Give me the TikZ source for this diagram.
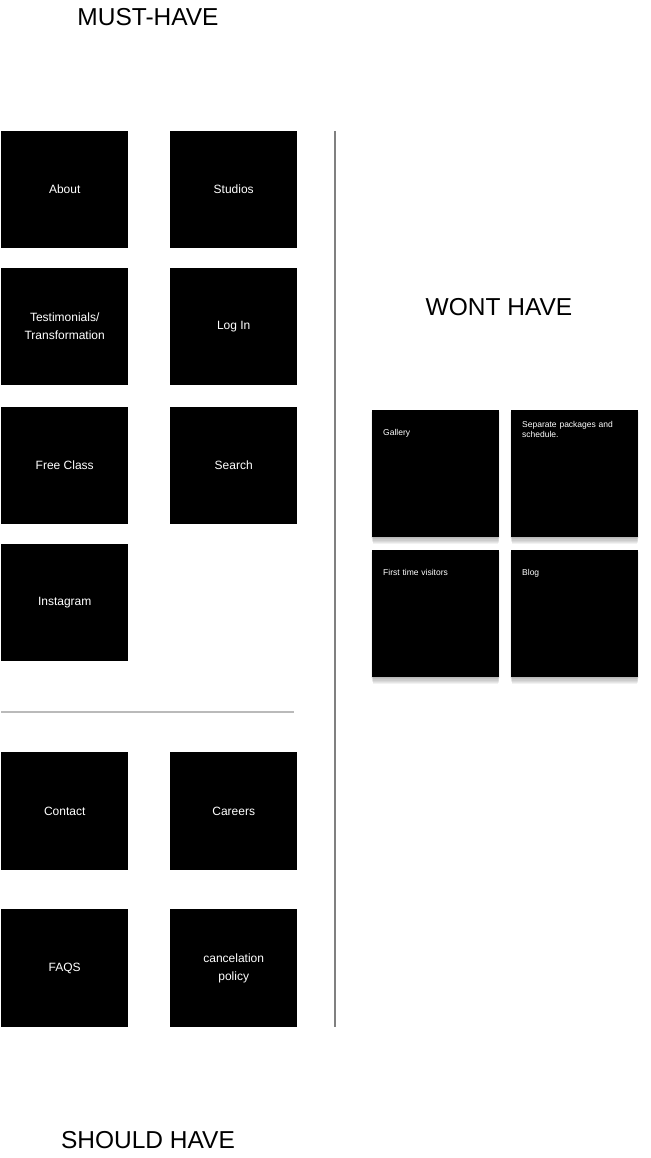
\documentclass[tikz,border=0pt]{standalone}
\usepackage{fontspec}
\setmainfont{Liberation Sans}
\begin{document}
\begin{tikzpicture}[x=1pt,y=-1pt,
  card/.style={fill=black,draw=none,minimum width=127pt,minimum height=117pt,inner sep=0pt,
    text=white,font=\fontsize{12}{18}\selectfont,align=center,anchor=north west},
  wcard/.style={fill=black,draw=none,minimum width=127pt,minimum height=127pt,inner sep=0pt,anchor=north west},
  wshadow/.style={fill=black,opacity=0.05,draw=none},
  wlabel/.style={text=white,font=\fontsize{8.5}{10}\selectfont,align=left,anchor=north west,inner sep=0pt,text width=100pt},
  title/.style={font=\fontsize{24.5}{30}\selectfont,text=black}]
\useasboundingbox (0,0) rectangle (650,1158);
\fill[white] (0,0) rectangle (650,1158);
\node[title] (must) at (148,17.5) {MUST-HAVE};
\node[title] (wont) at (499,307.5) {WONT HAVE};
\node[title] (should) at (148,1140.5) {SHOULD HAVE};
\node[card] (about) at (1,131) {About};
\node[card] (studios) at (170,131) {Studios};
\node[card] (testi) at (1,268) {Testimonials/\\Transformation};
\node[card] (login) at (170,268) {Log In};
\node[card] (free) at (1,407) {Free Class};
\node[card] (search) at (170,407) {Search};
\node[card] (insta) at (1,544) {Instagram};
\node[card,minimum height=118pt] (contact) at (1,752) {Contact};
\node[card,minimum height=118pt] (careers) at (170,752) {Careers};
\node[card,minimum height=118pt] (faqs) at (1,909) {FAQS};
\node[card,minimum height=118pt] (cancel) at (170,909) {cancelation\\policy};
\coordinate (hl) at (1,712);
\coordinate (hr) at (294,712);
\draw[line width=2pt,color=black!27] (hl) -- (hr);
\coordinate (vt) at (335,131);
\coordinate (vb) at (335,1027);
\draw[line width=1.6pt,color=black!50] (vt) -- (vb);
% soft shadows below the won't-have cards
\foreach \x/\y in {372/410,511/410,372/550,511/550}{
  \foreach \d in {1,2,3,4,5,6}{
    \fill[wshadow] (\x+\d*0.3-1,\y+2) rectangle (\x+128-\d*0.3,\y+127+\d*1.2);
  }
}
\node[wcard] (gallery) at (372,410) {};
\node[wcard] (separate) at (511,410) {};
\node[wcard] (first) at (372,550) {};
\node[wcard] (blog) at (511,550) {};
\node[wlabel] (tgallery) at (383,429.5) {Gallery};
\node[wlabel] (tseparate) at (522,421.5) {Separate packages and\\schedule.};
\node[wlabel] (tfirst) at (383,569.5) {First time visitors};
\node[wlabel] (tblog) at (522,569.5) {Blog};
\end{tikzpicture}
\end{document}
